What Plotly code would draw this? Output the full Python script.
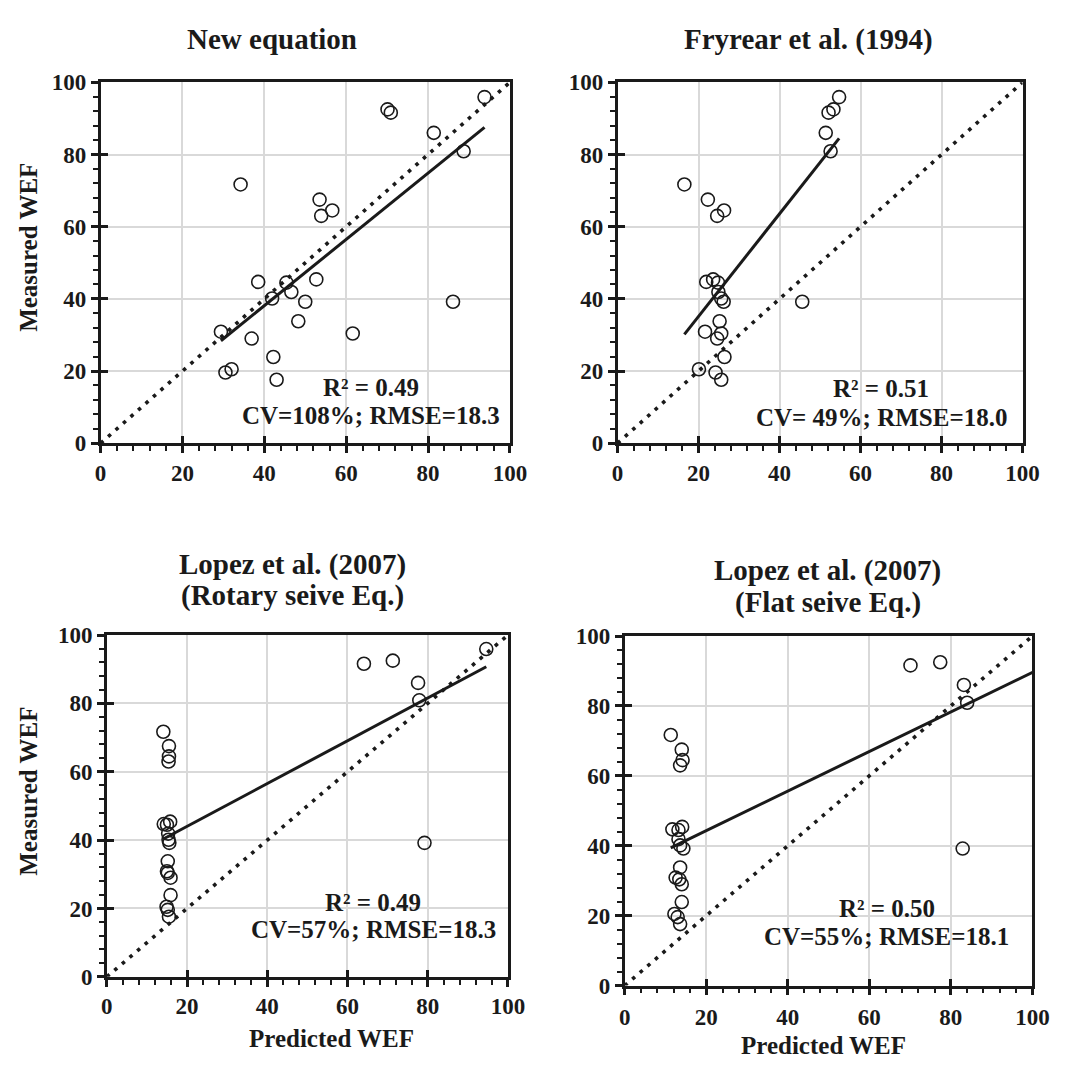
import plotly.graph_objects as go

W, H = 1067, 1066

# ---------------- data ----------------
measured = [95.9, 92.5, 91.6, 86.0, 80.9, 71.7, 67.5, 64.5, 63.0, 44.7, 44.5, 45.4,
            41.9, 40.1, 39.2, 39.2, 33.8, 30.9, 29.0, 30.4, 23.9, 19.6, 20.5, 17.6]

pred_new = [93.8, 70.1, 70.9, 81.4, 88.7, 34.2, 53.5, 56.6, 53.9, 38.5, 45.4, 52.7,
            46.6, 41.9, 50.0, 86.1, 48.3, 29.4, 36.9, 61.6, 42.2, 30.5, 32.0, 43.0]

pred_fryrear = [54.7, 53.3, 52.1, 51.4, 52.6, 16.5, 22.3, 26.3, 24.6, 21.9, 24.8, 23.6,
                24.9, 25.6, 26.2, 45.6, 25.2, 21.6, 24.6, 25.6, 26.4, 24.2, 20.1, 25.6]

pred_rotary = [94.6, 71.3, 64.1, 77.6, 77.9, 14.1, 15.5, 15.5, 15.4, 14.2, 15.0, 15.8,
               15.3, 15.4, 15.6, 79.2, 15.2, 15.0, 15.9, 15.2, 15.9, 15.2, 14.9, 15.5]

pred_flat = [104.0, 77.4, 70.1, 83.2, 84.0, 11.3, 14.0, 14.2, 13.6, 11.7, 13.2, 14.1,
             13.2, 13.6, 14.4, 82.9, 13.6, 12.5, 14.0, 13.4, 14.0, 13.0, 12.2, 13.6]

panel_titles = [["New equation"], ["Fryrear et al. (1994)"],
                ["Lopez et al. (2007)", "(Rotary seive Eq.)"],
                ["Lopez et al. (2007)", "(Flat seive Eq.)"]]
r2_labels = ["R² = 0.49", "R² = 0.51", "R² = 0.49", "R² = 0.50"]
stat_labels = ["CV=108%; RMSE=18.3", "CV= 49%; RMSE=18.0",
               "CV=57%; RMSE=18.3", "CV=55%; RMSE=18.1"]
trend_slope = [0.918, 1.422, 0.626, 0.566]
trend_intercept = [1.4, 6.7, 31.5, 33.0]
identity_line = [0, 100]
tick_values = [0, 20, 40, 60, 80, 100]
tick_labels = ["0", "20", "40", "60", "80", "100"]
x_title = "Predicted WEF"
y_title = "Measured WEF"

predictions = [pred_new, pred_fryrear, pred_rotary, pred_flat]

# ---------------- layout geometry (pixels) ----------------
# (left, right, top, bottom) of each plot area
boxes = [(96.7, 515, 72, 441.6), (625, 1039, 72, 441.6),
         (103, 513, 638, 988), (632.3, 1049, 639, 997)]
title_pos = [[(272, 28)], [(820, 28)], [(293, 566), (293, 598)], [(840, 572), (840, 605)]]
r2_pos = [(373, 385), (894, 386), (375, 912), (900, 918)]
stat_pos = [(373, 413), (895, 415), (376, 940), (900, 947)]
xtitle_pos = [(333, 1051), (836, 1058)]
ytitle_pos = [(23, 241), (23, 798)]
xtick_standoff = [0, 0, 0, 2]

FONT = "Liberation Serif"
INK = "#1a1a1a"

def px_x(v):
    return v / W

def px_y(v):
    return 1 - v / H

fig = go.Figure()

for i, pred in enumerate(predictions):
    n = i + 1
    xa = "x" if n == 1 else f"x{n}"
    ya = "y" if n == 1 else f"y{n}"
    # 1:1 line
    fig.add_trace(go.Scatter(x=identity_line, y=identity_line, mode="lines",
                             line=dict(color=INK, width=3.6, dash="3.6px,6.4px"),
                             xaxis=xa, yaxis=ya, hoverinfo="skip"))
    # trend line
    xmin, xmax = min(pred), max(pred)
    fig.add_trace(go.Scatter(x=[xmin, xmax],
                             y=[trend_slope[i] * xmin + trend_intercept[i],
                                trend_slope[i] * xmax + trend_intercept[i]],
                             mode="lines", line=dict(color=INK, width=3),
                             xaxis=xa, yaxis=ya, hoverinfo="skip"))
    # points
    fig.add_trace(go.Scatter(x=pred, y=measured, mode="markers",
                             marker=dict(symbol="circle-open", size=13,
                                         color=INK, line=dict(width=1.6, color=INK)),
                             xaxis=xa, yaxis=ya))
    # empty traces to activate overlay axes (inside half of the crossing ticks)
    fig.add_trace(go.Scatter(x=[], y=[], xaxis=f"x{n+4}", yaxis=ya, hoverinfo="skip"))
    fig.add_trace(go.Scatter(x=[], y=[], xaxis=xa, yaxis=f"y{n+4}", hoverinfo="skip"))

common = dict(range=[0, 100], tickvals=tick_values,
              ticktext=[f"<b>{t}</b>" for t in tick_labels],
              showgrid=True, gridcolor="#d9d9d9",
              gridwidth=1.5, showline=True, linecolor=INK, linewidth=2.5, mirror=True,
              ticks="outside", ticklen=7, tickwidth=2.5, tickcolor=INK, zeroline=False,
              minor=dict(dtick=4, tick0=0, ticks="outside", ticklen=5, tickwidth=2,
                         tickcolor=INK, showgrid=False),
              tickfont=dict(family=FONT, size=23, color=INK, weight="bold"),
              fixedrange=True)

layout = dict(width=W, height=H, margin=dict(l=0, r=0, t=0, b=0), autosize=False,
              plot_bgcolor="white", paper_bgcolor="white", showlegend=False)

for i, (l, r, t, b) in enumerate(boxes):
    n = i + 1
    xk = "xaxis" if n == 1 else f"xaxis{n}"
    yk = "yaxis" if n == 1 else f"yaxis{n}"
    ya = "y" if n == 1 else f"y{n}"
    xa = "x" if n == 1 else f"x{n}"
    xd = [px_x(l), px_x(r)]
    yd = [px_y(b), px_y(t)]
    layout[xk] = dict(common, domain=xd, anchor=ya, ticklabelstandoff=xtick_standoff[i])
    layout[yk] = dict(common, domain=yd, anchor=xa)
    # overlay axes: inside ticks only
    layout[f"xaxis{n+4}"] = dict(range=[0, 100], tickvals=tick_values, domain=xd,
                                 overlaying=xa, anchor=ya, side="bottom",
                                 showgrid=False, showline=False, zeroline=False,
                                 ticks="inside", ticklen=7, tickwidth=2.5, tickcolor=INK,
                                 showticklabels=False, fixedrange=True)
    layout[f"yaxis{n+4}"] = dict(range=[0, 100], tickvals=tick_values, domain=yd,
                                 overlaying=ya, anchor=xa, side="left",
                                 showgrid=False, showline=False, zeroline=False,
                                 ticks="inside", ticklen=7, tickwidth=2.5, tickcolor=INK,
                                 showticklabels=False, fixedrange=True)

annotations = []
for i in range(4):
    for text, (x, y) in zip(panel_titles[i], title_pos[i]):
        annotations.append(dict(text=text, x=px_x(x), y=px_y(y), xref="paper", yref="paper",
                                showarrow=False, xanchor="center", yanchor="middle",
                                font=dict(family=FONT, size=29, color=INK, weight="bold")))
    annotations.append(dict(text=r2_labels[i], x=px_x(r2_pos[i][0]), y=px_y(r2_pos[i][1]),
                            xref="paper", yref="paper", showarrow=False,
                            xanchor="center", yanchor="middle",
                            font=dict(family=FONT, size=25, color=INK, weight="bold")))
    annotations.append(dict(text=stat_labels[i], x=px_x(stat_pos[i][0]), y=px_y(stat_pos[i][1]),
                            xref="paper", yref="paper", showarrow=False,
                            xanchor="center", yanchor="middle",
                            font=dict(family=FONT, size=25, color=INK, weight="bold")))
for (x, y) in xtitle_pos:
    annotations.append(dict(text=x_title, x=px_x(x), y=px_y(y), xref="paper", yref="paper",
                            showarrow=False, xanchor="center", yanchor="middle",
                            font=dict(family=FONT, size=25, color=INK, weight="bold")))
for (x, y) in ytitle_pos:
    annotations.append(dict(text=y_title, x=px_x(x), y=px_y(y), xref="paper", yref="paper",
                            showarrow=False, xanchor="center", yanchor="middle", textangle=-90,
                            font=dict(family=FONT, size=25, color=INK, weight="bold")))
layout["annotations"] = annotations

fig.update_layout(**layout)
fig.write_html("out.html", config={"displayModeBar": False},
               post_script="document.body.style.margin='0px';"
                           "document.body.style.overflow='hidden';")
